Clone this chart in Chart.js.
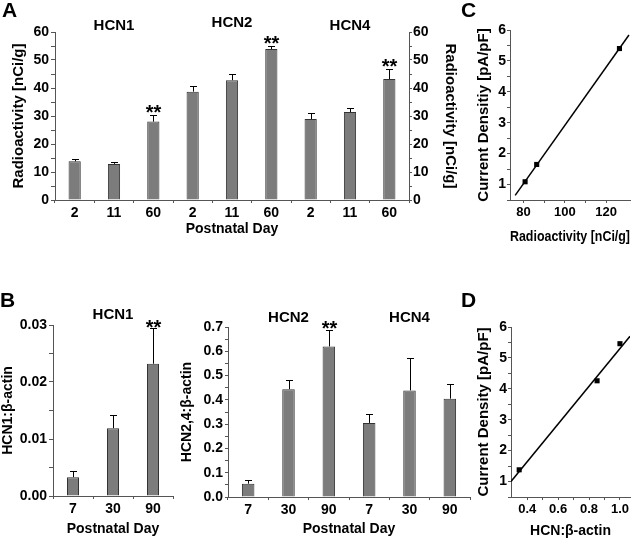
<!DOCTYPE html>
<html lang="en">

<head>
  <meta charset="UTF-8" />
  <title>HCN channel expression and current density</title>
  <script src="https://cdn.jsdelivr.net/npm/chart.js"></script>
  <style>
    body { margin: 0; background: #fff; }
    #fig { position: relative; width: 640px; height: 542px; overflow: hidden; }
    #fig canvas { position: absolute; }
    .panel { position: absolute; font: bold 21px "Liberation Sans", Arial, sans-serif; line-height: 20px; color: #000; }
  </style>
</head>

<body>
  <div id="fig">
    <canvas id="chartA" width="470" height="250" style="left:0;top:0"></canvas>
    <canvas id="chartB1" width="185" height="262" style="left:0;top:280px"></canvas>
    <canvas id="chartB2" width="300" height="262" style="left:175px;top:280px"></canvas>
    <canvas id="chartC" width="180" height="250" style="left:460px;top:0"></canvas>
    <canvas id="chartD" width="180" height="262" style="left:460px;top:280px"></canvas>
    <div class="panel" style="left:2px;top:0">A</div>
    <div class="panel" style="left:0;top:290px">B</div>
    <div class="panel" style="left:461px;top:0">C</div>
    <div class="panel" style="left:461px;top:290px">D</div>
  </div>

  <script>
    // --- data ---
    const groupsA = ["HCN1", "HCN2", "HCN4"];
    const daysA = ["2", "11", "60"];
    const radioactivity = [13.8, 12.9, 28.0, 38.7, 42.8, 53.9, 28.9, 31.4, 43.2];
    const radioactivityErr = [1.0, 0.5, 2.2, 2.0, 2.2, 1.0, 2.1, 1.4, 3.5];
    const radioactivitySig = [0, 0, 1, 0, 0, 1, 0, 0, 1];

    const daysB = ["7", "30", "90"];
    const hcn1Actin = [0.0033, 0.0119, 0.0232];
    const hcn1ActinErr = [0.0011, 0.0023, 0.0062];
    const hcn1ActinSig = [0, 0, 1];
    const hcn24Actin = [0.055, 0.444, 0.620, 0.305, 0.439, 0.405];
    const hcn24ActinErr = [0.014, 0.036, 0.066, 0.038, 0.133, 0.060];
    const hcn24ActinSig = [0, 0, 1, 0, 0, 0];

    const radioC = [80.8, 86.4, 126.4];
    const densityC = [1.09, 1.65, 5.40];
    const fitCx = [76.0, 131.0];
    const fitCy = [0.65, 5.84];

    const actinD = [0.348, 0.852, 1.0];
    const densityD = [1.38, 4.26, 5.46];
    const fitDx = [0.295, 1.065];
    const fitDy = [1.0, 5.70];

    Chart.defaults.font.family = '"Liberation Sans", Arial, sans-serif';
    Chart.defaults.font.size = 14;
    Chart.defaults.font.weight = "bold";
    Chart.defaults.color = "#000";
    Chart.defaults.animation = false;
    Chart.defaults.responsive = false;
    Chart.defaults.plugins.legend.display = false;
    Chart.defaults.plugins.tooltip.enabled = false;

    const AXIS = "#555";
    const BAR = "#7c7c7c";

    // error bars, ** marks and group titles on top of the bars
    function barOverlay(titles, starGap) {
      return {
        id: "barOverlay",
        afterDatasetsDraw(chart) {
          const ds = chart.data.datasets[0];
          const meta = chart.getDatasetMeta(0);
          const y = chart.scales.y;
          const ctx = chart.ctx;
          ctx.save();
          ctx.strokeStyle = "#000";
          ctx.fillStyle = "#000";
          ctx.lineWidth = 1;
          ctx.font = 'bold 20px "Liberation Sans", Arial, sans-serif';
          ctx.textAlign = "center";
          ctx.textBaseline = "alphabetic";
          meta.data.forEach((bar, i) => {
            const top = Math.round(y.getPixelForValue(ds.data[i] + ds.errors[i])) + 0.5;
            const x = Math.round(bar.x) + 0.5;
            ctx.beginPath();
            ctx.moveTo(x, bar.y);
            ctx.lineTo(x, top);
            ctx.moveTo(x - 3.5, top);
            ctx.lineTo(x + 3.5, top);
            ctx.stroke();
            if (ds.sig[i]) ctx.fillText("**", x, top + starGap);
          });
          ctx.font = 'bold 15px "Liberation Sans", Arial, sans-serif';
          titles.forEach(t => {
            const x = meta.data[t.index].x;
            ctx.fillText(t.text, x, chart.chartArea.top - t.lift);
          });
          ctx.restore();
        }
      };
    }

    function yAxis(o) {
      return {
        position: o.position || "left",
        min: o.min,
        max: o.max,
        border: { color: AXIS, width: 1 },
        grid: { drawOnChartArea: false, color: AXIS, tickLength: o.tick || 4 },
        ticks: { stepSize: o.step, padding: o.pad ?? 2, autoSkip: false, callback: o.fmt, font: { size: o.tickSize || 14 } },
        title: { display: true, text: o.title, font: { size: o.titleSize || 15 }, padding: { top: o.titlePad, bottom: 0 } },
        afterFit: s => { s.width = o.width; }
      };
    }

    function xCategory(o) {
      return {
        border: { color: AXIS, width: 1 },
        grid: { drawOnChartArea: false, color: AXIS, tickLength: 3 },
        ticks: { autoSkip: false, maxRotation: 0, padding: 2 },
        title: { display: true, text: "Postnatal Day", font: { size: 14 }, padding: { top: 0, bottom: o.titlePad } },
        afterFit: s => { s.height = o.height; }
      };
    }

    const majorEvery = (step, digits) => v => {
      const k = Math.round(v / (step / 2));
      return k % 2 === 0 ? v.toFixed(digits) : "";
    };

    // ---- A ----
    new Chart(document.getElementById("chartA"), {
      type: "bar",
      data: {
        labels: groupsA.flatMap(() => daysA),
        datasets: [{
          data: radioactivity,
          errors: radioactivityErr,
          sig: radioactivitySig,
          backgroundColor: BAR,
          borderColor: "#333",
          borderWidth: 1,
          categoryPercentage: 1,
          barPercentage: 0.31
        }]
      },
      options: {
        layout: { padding: { top: 32, left: 0, right: 0, bottom: 0 } },
        scales: {
          x: xCategory({ height: 50, titlePad: 12 }),
          y: yAxis({ min: 0, max: 60, step: 5, width: 55, titlePad: 10, title: "Radioactivity [nCi/g]", fmt: majorEvery(10, 0) }),
          y2: yAxis({ position: "right", min: 0, max: 60, step: 5, width: 61, titlePad: 11, tick: 3, pad: 1, title: "Radioactivity [nCi/g]", fmt: majorEvery(10, 0) })
        }
      },
      plugins: [barOverlay([
        { text: "HCN1", index: 1, lift: 2 },
        { text: "HCN2", index: 4, lift: 5 },
        { text: "HCN4", index: 7, lift: 2 }
      ], 3)]
    });

    // ---- B, HCN1 ----
    new Chart(document.getElementById("chartB1"), {
      type: "bar",
      data: {
        labels: daysB,
        datasets: [{
          data: hcn1Actin,
          errors: hcn1ActinErr,
          sig: hcn1ActinSig,
          backgroundColor: BAR,
          borderColor: "#333",
          borderWidth: 1,
          categoryPercentage: 1,
          barPercentage: 0.3
        }]
      },
      options: {
        layout: { padding: { top: 45, left: 0, right: 12, bottom: 0 } },
        scales: {
          x: xCategory({ height: 46, titlePad: 4 }),
          y: yAxis({ min: 0, max: 0.03, step: 0.005, width: 53, titlePad: 0, titleSize: 14, title: "HCN1:β-actin", fmt: majorEvery(0.01, 2) })
        }
      },
      plugins: [barOverlay([{ text: "HCN1", index: 1, lift: 6 }], 5)]
    });

    // ---- B, HCN2 and HCN4 ----
    new Chart(document.getElementById("chartB2"), {
      type: "bar",
      data: {
        labels: daysB.concat(daysB),
        datasets: [{
          data: hcn24Actin,
          errors: hcn24ActinErr,
          sig: hcn24ActinSig,
          backgroundColor: BAR,
          borderColor: "#333",
          borderWidth: 1,
          categoryPercentage: 1,
          barPercentage: 0.31
        }]
      },
      options: {
        layout: { padding: { top: 47, left: 0, right: 5, bottom: 0 } },
        scales: {
          x: xCategory({ height: 45, titlePad: 4 }),
          y: yAxis({ min: 0, max: 0.7, step: 0.05, width: 53, titlePad: 4, tick: 3, titleSize: 14, title: "HCN2,4:β-actin", fmt: majorEvery(0.1, 1) })
        }
      },
      plugins: [barOverlay([
        { text: "HCN2", index: 1, lift: 5 },
        { text: "HCN4", index: 4, lift: 5 }
      ], 4)]
    });

    // ---- C and D: scatter with fitted line ----
    function scatterChart(id, o) {
      return new Chart(document.getElementById(id), {
        type: "scatter",
        data: {
          datasets: [{
            data: o.xs.map((x, i) => ({ x, y: o.ys[i] })),
            pointStyle: "rect",
            pointRadius: 3.6,
            backgroundColor: "#000",
            borderColor: "#000",
            borderWidth: 0
          }, {
            type: "line",
            data: o.fitX.map((x, i) => ({ x, y: o.fitY[i] })),
            borderColor: "#000",
            borderWidth: 1.5,
            pointRadius: 0,
            showLine: true
          }]
        },
        options: {
          layout: { padding: { top: o.top, left: 0, right: 10, bottom: 0 } },
          scales: {
            x: {
              type: "linear",
              min: o.xMin,
              max: o.xMax,
              border: { color: AXIS, width: 1 },
              grid: { drawOnChartArea: false, color: AXIS, tickLength: 3 },
              ticks: { autoSkip: false, maxRotation: 0, padding: 2, font: { size: 13 }, callback: o.xFmt },
              afterBuildTicks: s => { s.ticks = o.xTicks.map(v => ({ value: v })); },
              title: { display: true, text: o.xTitle, font: { size: 14 }, padding: { top: 0, bottom: o.xTitlePad } },
              afterFit: s => { s.height = o.xHeight; }
            },
            y: yAxis({ min: 0.5, max: 6, step: 0.5, width: o.yWidth, titlePad: 15, tick: 3, pad: 1, tickSize: 14, title: o.yTitle, fmt: majorEvery(1, 0) })
          }
        }
      });
    }

    scatterChart("chartC", {
      xs: radioC, ys: densityC, fitX: fitCx, fitY: fitCy,
      xMin: 73.5, xMax: 131.5, xTicks: [80, 90, 100, 110, 120],
      xFmt: majorEvery(20, 0),
      xTitle: "Radioactivity [nCi/g]", yTitle: "Current Densitiy [pA/pF]",
      top: 30, xHeight: 50, xTitlePad: 4, yWidth: 50
    });

    scatterChart("chartD", {
      xs: actinD, ys: densityD, fitX: fitDx, fitY: fitDy,
      xMin: 0.295, xMax: 1.065, xTicks: [0.4, 0.5, 0.6, 0.7, 0.8, 0.9, 1.0],
      xFmt: v => (Math.round(v * 10) % 2 === 0 ? v.toFixed(1) : ""),
      xTitle: "HCN:β-actin", yTitle: "Current Density [pA/pF]",
      top: 47, xHeight: 45, xTitlePad: 2, yWidth: 51
    });
  </script>
</body>

</html>
